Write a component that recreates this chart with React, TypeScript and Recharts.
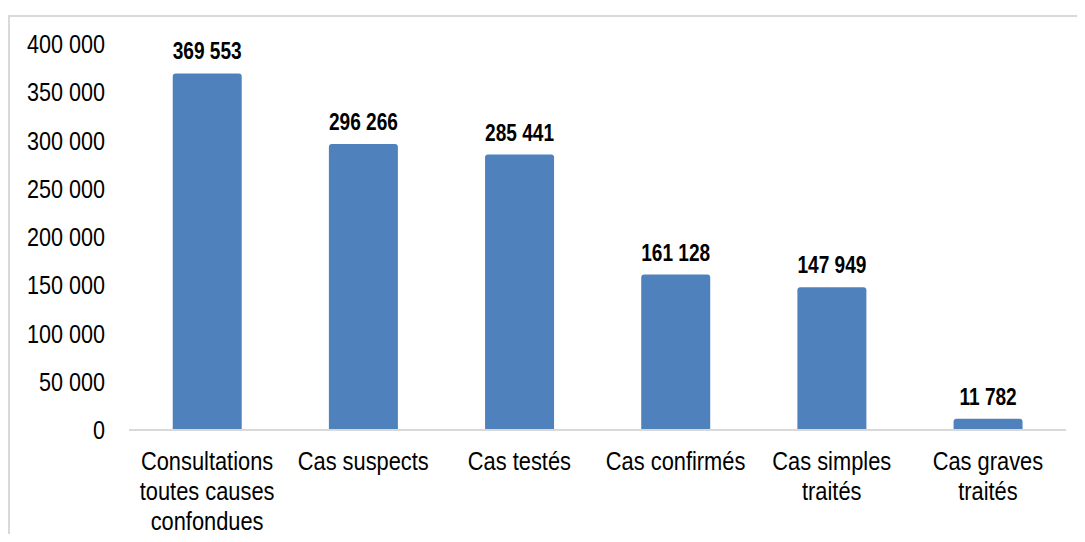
import React from "react";
import { BarChart, Bar, XAxis, YAxis, LabelList } from "recharts";

const CATEGORIES = [
  ["Consultations", "toutes causes", "confondues"],
  ["Cas suspects"],
  ["Cas testés"],
  ["Cas confirmés"],
  ["Cas simples", "traités"],
  ["Cas graves", "traités"],
];
const VALUES = [369553, 296266, 285441, 161128, 147949, 11782];
const Y_TICKS = [0, 50000, 100000, 150000, 200000, 250000, 300000, 350000, 400000];

const BLUE = "#4f81bd";
const BORDER = "#d9d9d9";
const FONT = '"Liberation Sans", Arial, sans-serif';
// narrow look (Arial Narrow is not installed)
const NARROW = 0.83;

const fmt = (v: number) => String(v).replace(/\B(?=(\d{3})+(?!\d))/g, " ");

const data = CATEGORIES.map((lines, i) => ({ key: String(i), lines, value: VALUES[i] }));

function CategoryTick({ x, y, payload }: any) {
  const lines = data[Number(payload.value)]?.lines ?? [];
  return (
    <text
      transform={`translate(${x},${y}) scale(0.84,1)`}
      textAnchor="middle"
      fill="#000"
      fontFamily={FONT}
      fontSize={26}
    >
      {lines.map((l, i) => (
        <tspan key={i} x={0} dy={i === 0 ? 32 : 30}>
          {l}
        </tspan>
      ))}
    </text>
  );
}

function ValueTick({ x, y, payload }: any) {
  return (
    <text
      transform={`translate(${x},${y}) scale(${NARROW},1)`}
      textAnchor="end"
      dy={9}
      fill="#000"
      fontFamily={FONT}
      fontSize={26}
    >
      {fmt(payload.value)}
    </text>
  );
}

function BarLabel({ x, y, width, value }: any) {
  return (
    <text
      transform={`translate(${x + width / 2},${y - 14}) scale(${NARROW},1)`}
      textAnchor="middle"
      fill="#000"
      fontFamily={FONT}
      fontSize={23}
      fontWeight={700}
    >
      {fmt(Number(value))}
    </text>
  );
}

export default function App() {
  return (
    <div style={{ position: "relative", width: 1077, height: 526, overflow: "hidden" }}>
      <div
        style={{
          position: "absolute",
          left: 0,
          top: 7,
          width: 1200,
          height: 700,
          borderTop: `2px solid ${BORDER}`,
          borderLeft: `2px solid ${BORDER}`,
        }}
      />
      <div style={{ position: "absolute", left: 0, top: 0 }}>
        <BarChart
          width={1077}
          height={526}
          data={data}
          margin={{ top: 36, right: 19, bottom: 0, left: 0 }}
          barCategoryGap="28%"
        >
          <XAxis
            dataKey="key"
            interval={0}
            height={104}
            tickLine={false}
            axisLine={{ stroke: BORDER, strokeWidth: 2 }}
            tick={<CategoryTick />}
          />
          <YAxis
            width={121}
            domain={[0, 400000]}
            ticks={Y_TICKS}
            interval={0}
            axisLine={false}
            tickLine={false}
            tickSize={0}
            tickMargin={24}
            tick={<ValueTick />}
          />
          <Bar dataKey="value" fill={BLUE} radius={[3, 3, 0, 0]} isAnimationActive={false}>
            <LabelList dataKey="value" content={<BarLabel />} />
          </Bar>
        </BarChart>
      </div>
    </div>
  );
}
